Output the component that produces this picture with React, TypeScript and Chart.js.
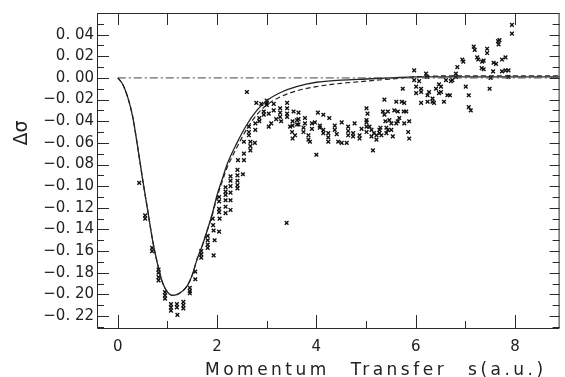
import React, { useEffect, useRef } from "react";
import { Chart, registerables } from "chart.js";

Chart.register(...registerables);

// ---- axis ticks ----
const xTicks = [0, 2, 4, 6, 8];
const yTicks = [-0.22, -0.2, -0.18, -0.16, -0.14, -0.12, -0.1, -0.08, -0.06, -0.04, -0.02, 0, 0.02, 0.04];

// ---- theory curves ----
const curveS = [0, 0.1, 0.2, 0.3, 0.4, 0.5, 0.6, 0.7, 0.8, 0.9, 1.0, 1.1, 1.2, 1.3, 1.4, 1.5, 1.6, 1.7, 1.8, 1.9, 2.0, 2.1, 2.2, 2.4, 2.6, 2.8, 3.0, 3.3, 3.6, 4.0, 4.5, 5.0, 5.5, 6.0, 7.0, 8.0, 8.9];
const curveSolid = [0, -0.006, -0.018, -0.036, -0.064, -0.094, -0.122, -0.150, -0.172, -0.189, -0.198, -0.201, -0.200, -0.197, -0.192, -0.182, -0.167, -0.155, -0.141, -0.126, -0.108, -0.094, -0.080, -0.060, -0.043, -0.030, -0.021, -0.013, -0.008, -0.004, -0.002, -0.001, 0, 0.001, 0.001, 0.001, 0.001];
const curveDashed = [0, -0.006, -0.018, -0.036, -0.064, -0.094, -0.122, -0.150, -0.172, -0.189, -0.198, -0.201, -0.200, -0.197, -0.192, -0.182, -0.167, -0.155, -0.141, -0.127, -0.110, -0.096, -0.083, -0.064, -0.047, -0.034, -0.025, -0.017, -0.012, -0.008, -0.005, -0.003, -0.001, 0.001, 0.002, 0.002, 0.002];
const zeroLineS = [0, 8.9];
const zeroLineV = [0, 0];

// ---- measured points ----
const dataS = [
  0.43, 0.55, 0.55, 0.69, 0.69, 0.82, 0.82, 0.82, 0.82, 0.95, 0.95, 0.95,
  1.07, 1.07, 1.07, 1.19, 1.19, 1.2, 1.32, 1.32, 1.32, 1.45, 1.45, 1.45,
  1.56, 1.56, 1.68, 1.68, 1.68, 1.81, 1.81, 1.81, 1.81,
  1.91, 1.92, 1.93, 1.95, 1.93,
  2.04, 2.04, 2.04, 2.04, 2.05, 2.04,
  2.17, 2.17, 2.17, 2.17, 2.17, 2.17,
  2.27, 2.27, 2.27, 2.27, 2.27, 2.27,
  2.41, 2.41, 2.41, 2.41, 2.41, 2.42, 2.52, 2.54, 2.54,
  2.54, 2.6, 2.64, 2.64, 2.64, 2.67, 2.67, 2.67, 2.76, 2.77, 2.77,
  2.79, 2.89, 2.85, 2.85, 2.94, 2.94, 3.0, 3.0, 3.0, 3.04, 3.09, 3.04,
  3.14, 3.14, 3.19, 3.29, 3.27, 3.27, 3.27, 3.41, 3.41, 3.41, 3.41, 3.4,
  3.47, 3.51, 3.57, 3.52, 3.54, 3.61, 3.61,
  3.64, 3.52, 3.52, 3.64, 3.64, 3.77, 3.77, 3.74, 3.74, 3.84, 3.84, 3.87,
  3.91, 3.91, 3.97, 4.03, 4.14, 4.26, 4.07, 4.07, 4.14, 4.14, 4.0,
  4.24, 4.24, 4.24, 4.37, 4.37, 4.41, 4.51, 4.44, 4.51, 4.61,
  4.64, 4.64, 4.64, 4.77, 4.74, 4.74, 4.87, 4.87, 4.91,
  5.01, 5.03, 5.01, 5.01, 5.01, 5.01, 5.07, 5.11, 5.11, 5.16, 5.14,
  5.21, 5.21, 5.27, 5.27, 5.34, 5.37, 5.39, 5.41, 5.29, 5.31, 5.44,
  5.37, 5.44, 5.47, 5.41, 5.51, 5.54, 5.51,
  5.57, 5.61, 5.64, 5.67, 5.61, 5.64, 5.72, 5.77, 5.76, 5.81, 5.74,
  5.77, 5.87, 5.85, 5.87,
  5.97, 5.97, 6.07, 6.21, 6.23, 6.01, 6.01, 6.11, 6.11,
  6.11, 6.24, 6.27, 6.24, 6.34, 6.34, 6.37, 6.41, 6.47, 6.51, 6.47, 6.51,
  6.57, 6.64, 6.69, 6.61, 6.71, 6.74, 6.81, 6.84, 6.81, 6.94, 6.96,
  7.01, 7.07, 7.11, 7.07, 7.17, 7.19,
  7.94, 7.94, 7.66, 7.69, 7.67, 7.44, 7.44, 7.24, 7.26, 7.34, 7.37,
  7.33, 7.37, 7.57, 7.62, 7.74, 7.81, 7.81, 7.87, 7.74, 7.56, 7.51, 7.87, 7.49,
];
const dataV = [
  -0.097, -0.127, -0.130, -0.157, -0.160, -0.177, -0.180, -0.184, -0.187, -0.198, -0.201, -0.204,
  -0.209, -0.212, -0.215, -0.209, -0.212, -0.219, -0.207, -0.210, -0.213, -0.194, -0.197, -0.199,
  -0.179, -0.186, -0.160, -0.163, -0.166, -0.146, -0.150, -0.154, -0.157,
  -0.130, -0.136, -0.141, -0.150, -0.164,
  -0.110, -0.114, -0.121, -0.124, -0.130, -0.142,
  -0.101, -0.105, -0.108, -0.113, -0.119, -0.125,
  -0.091, -0.095, -0.100, -0.106, -0.113, -0.122,
  -0.085, -0.090, -0.095, -0.099, -0.102, -0.076, -0.089, -0.070, -0.076,
  -0.059, -0.013, -0.045, -0.050, -0.053, -0.059, -0.063, -0.067, -0.060, -0.042, -0.048,
  -0.023, -0.024, -0.037, -0.040, -0.031, -0.034, -0.021, -0.023, -0.025, -0.033, -0.042, -0.045,
  -0.024, -0.030, -0.038, -0.040, -0.028, -0.032, -0.036, -0.023, -0.028, -0.033, -0.036, -0.134,
  -0.045, -0.050, -0.053, -0.056, -0.031, -0.039, -0.043,
  -0.032, -0.040, -0.044, -0.038, -0.043, -0.037, -0.042, -0.046, -0.050, -0.053, -0.057, -0.059,
  -0.042, -0.047, -0.041, -0.032, -0.034, -0.037, -0.044, -0.046, -0.048, -0.051, -0.071,
  -0.051, -0.055, -0.059, -0.044, -0.048, -0.052, -0.041, -0.059, -0.060, -0.060,
  -0.045, -0.049, -0.053, -0.042, -0.051, -0.054, -0.053, -0.056, -0.047,
  -0.028, -0.033, -0.039, -0.041, -0.045, -0.050, -0.045, -0.048, -0.054, -0.051, -0.067,
  -0.053, -0.057, -0.048, -0.051, -0.031, -0.034, -0.040, -0.051, -0.046, -0.053, -0.048,
  -0.020, -0.031, -0.039, -0.046, -0.042, -0.054, -0.048,
  -0.030, -0.022, -0.031, -0.037, -0.042, -0.040, -0.022, -0.023, -0.031, -0.031, -0.010,
  -0.042, -0.040, -0.050, -0.056,
  0.007, -0.002, -0.003, 0.004, 0.001, -0.008, -0.014, -0.010, -0.013,
  -0.023, -0.016, -0.013, -0.022, -0.019, -0.022, -0.023, -0.010, -0.006, -0.008, -0.014, -0.013,
  -0.022, -0.016, -0.016, -0.002, -0.003, -0.002, 0.004, 0.010, 0.001, 0.017, 0.015,
  -0.008, -0.016, -0.030, -0.027, 0.029, 0.026,
  0.049, 0.041, 0.034, 0.035, 0.031, 0.027, 0.023, 0.019, 0.017, 0.015, 0.016,
  0.009, 0.008, 0.014, 0.013, 0.017, 0.019, 0.007, 0.007, 0.006, 0.006, 0.000, 0.001, -0.010,
];

const INK = "#222";

const pairs = (xs: number[], ys: number[]) => xs.map((x, i) => ({ x, y: ys[i] }));

const fmtY = (v: number) => {
  const s = Math.abs(v).toFixed(2).replace(".", ". ");
  return (v < -1e-9 ? "\u2212" : "") + s;
};

const framePlugin = {
  id: "frame",
  afterDraw(chart: any) {
    const { ctx, chartArea, scales } = chart;
    const { left, right, top, bottom } = chartArea;
    const x = scales.x;
    const y = scales.y;
    ctx.save();
    ctx.strokeStyle = "#2a2a2a";
    ctx.lineWidth = 1;
    ctx.beginPath();
    ctx.rect(left + 0.5, top + 0.5, right - left - 1, bottom - top - 1);
    for (let k = -23; k <= 6; k++) {
      const py = Math.round(y.getPixelForValue(k / 100)) + 0.5;
      if (py < top || py > bottom) continue;
      const long = k % 2 === 0;
      ctx.moveTo(left, py);
      ctx.lineTo(left + (long ? 12 : 7), py);
      ctx.moveTo(right, py);
      ctx.lineTo(right - (long ? 10 : 7), py);
    }
    for (let k = 0; k <= 8; k++) {
      const px = Math.round(x.getPixelForValue(k)) + 0.5;
      const long = k % 2 === 0;
      ctx.moveTo(px, bottom);
      ctx.lineTo(px, bottom - (long ? 14 : 8));
      ctx.moveTo(px, top);
      ctx.lineTo(px, top + 12);
    }
    ctx.stroke();

    ctx.fillStyle = INK;
    ctx.font = '17px "DejaVu Sans"';
    ctx.textAlign = "left";
    ctx.textBaseline = "alphabetic";
    try {
      (ctx as any).letterSpacing = "3.5px";
      (ctx as any).wordSpacing = "12px";
    } catch (e) {}
    ctx.fillText("Momentum Transfer s(a.u.)", 205, 375);
    try {
      (ctx as any).letterSpacing = "0px";
      (ctx as any).wordSpacing = "0px";
    } catch (e) {}

    ctx.save();
    ctx.translate(27, 133);
    ctx.rotate(-Math.PI / 2);
    ctx.textAlign = "center";
    ctx.font = '19px "DejaVu Sans"';
    ctx.fillText("\u0394\u03c3", 0, 0);
    ctx.restore();
    ctx.restore();
  },
};

export default function App() {
  const ref = useRef<HTMLCanvasElement | null>(null);
  useEffect(() => {
    if (!ref.current) return;
    const chart = new Chart(ref.current, {
      type: "scatter",
      data: {
        datasets: [
          {
            label: "zero",
            data: pairs(zeroLineS, zeroLineV),
            showLine: true,
            borderColor: "#444",
            borderWidth: 1,
            borderDash: [8, 3, 2, 3],
            pointRadius: 0,
          },
          {
            label: "theory (dashed)",
            data: pairs(curveS, curveDashed),
            showLine: true,
            borderColor: INK,
            borderWidth: 1.2,
            borderDash: [5, 3],
            pointRadius: 0,
            cubicInterpolationMode: "monotone",
          },
          {
            label: "theory",
            data: pairs(curveS, curveSolid),
            showLine: true,
            borderColor: INK,
            borderWidth: 1.3,
            pointRadius: 0,
            cubicInterpolationMode: "monotone",
          },
          {
            label: "experiment",
            data: pairs(dataS, dataV),
            showLine: false,
            pointStyle: "crossRot",
            pointRadius: 2.6,
            borderWidth: 1.4,
            borderColor: "#111",
            backgroundColor: "#111",
          },
        ],
      } as any,
      options: {
        animation: false,
        responsive: true,
        maintainAspectRatio: false,
        layout: { padding: { top: 13, right: 2, left: 0, bottom: 0 } },
        plugins: { legend: { display: false }, tooltip: { enabled: false } },
        scales: {
          x: {
            type: "linear",
            min: -0.42,
            max: 8.9,
            grid: { display: false, drawTicks: false },
            border: { display: false },
            afterBuildTicks: (s: any) => {
              s.ticks = xTicks.map((v) => ({ value: v }));
            },
            afterFit: (s: any) => {
              s.height = 48;
            },
            ticks: {
              padding: 9,
              color: INK,
              font: { family: "DejaVu Sans", size: 15 },
              callback: (v: any) => String(v),
              maxRotation: 0,
            },
          },
          y: {
            type: "linear",
            min: -0.232,
            max: 0.06,
            grid: { display: false, drawTicks: false },
            border: { display: false },
            afterBuildTicks: (s: any) => {
              s.ticks = yTicks.map((v) => ({ value: v }));
            },
            afterFit: (s: any) => {
              s.width = 97;
            },
            ticks: {
              padding: 3,
              color: INK,
              font: { family: "DejaVu Sans", size: 15 },
              callback: (v: any) => fmtY(Number(v)),
            },
          },
        },
      } as any,
      plugins: [framePlugin],
    });
    return () => chart.destroy();
  }, []);
  return (
    <div style={{ position: "fixed", left: 0, top: 0, width: 565, height: 377, background: "#fff" }}>
      <canvas ref={ref} />
    </div>
  );
}
